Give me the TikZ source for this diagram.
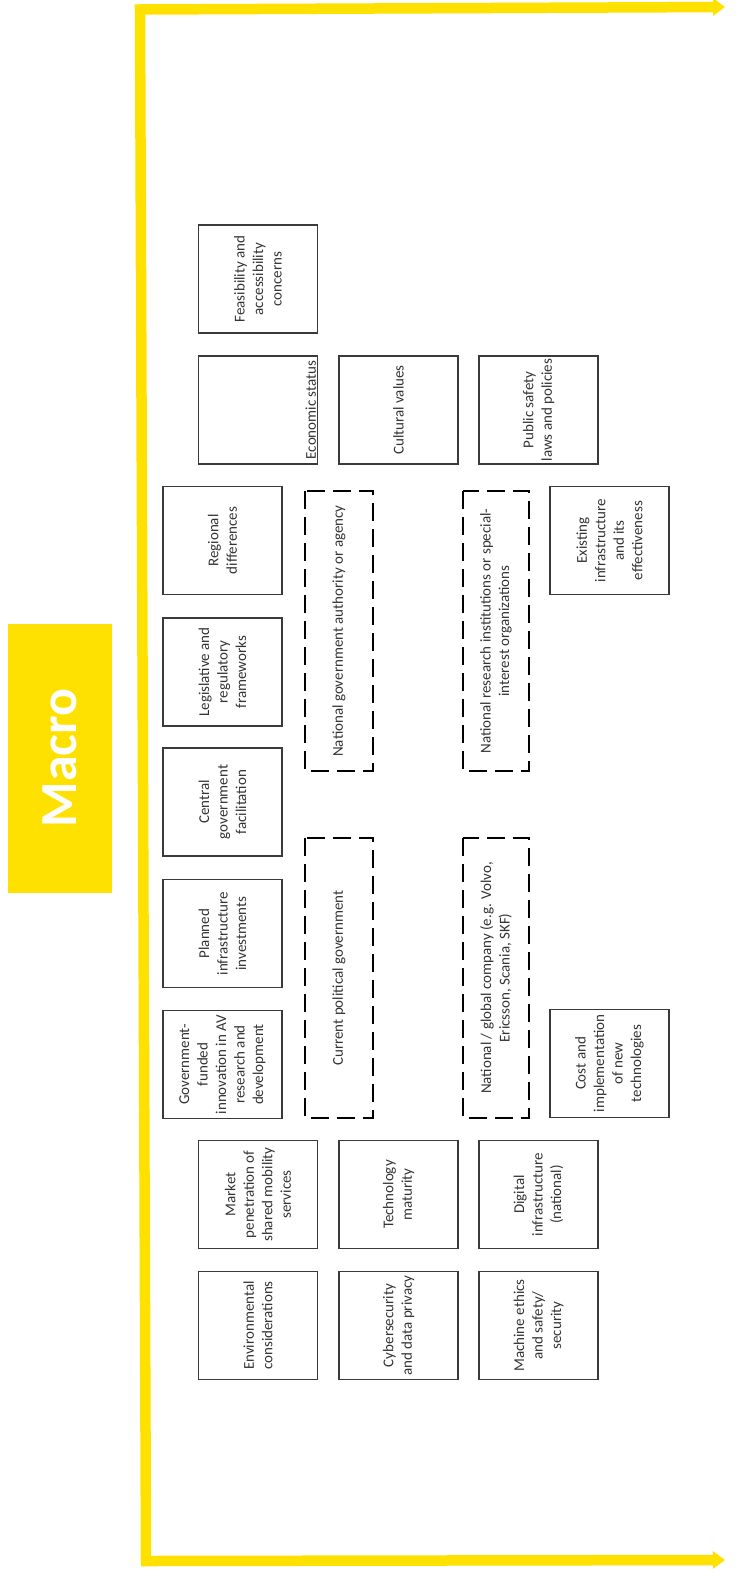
\documentclass[tikz,border=0pt]{standalone}
\usepackage{fontspec}
\setmainfont{Carlito}
\usetikzlibrary{arrows.meta}
\definecolor{macroyellow}{HTML}{FFE100}
\definecolor{boxline}{HTML}{3A3A3A}
\definecolor{boxtext}{HTML}{333333}
\begin{document}
\begin{tikzpicture}[x=1pt,y=-1pt,
  factor/.style={draw=boxline, line width=1.3pt, rotate=90,
    minimum width=108pt, minimum height=119pt, inner sep=1pt,
    align=center, text=boxtext, font=\fontsize{15}{18.5}\selectfont},
  actor/.style={draw=black, line width=1.9pt, dash pattern=on 18pt off 8pt,
    rotate=90, minimum width=280pt, inner sep=1pt,
    align=center, text=boxtext, font=\fontsize{15}{18.5}\selectfont},
  axis/.style={draw=macroyellow, line width=10.5pt, line join=miter,
    {Triangle[length=12pt,width=17pt]}-{Triangle[length=12pt,width=17pt]}},
]
\useasboundingbox (0,0) rectangle (739,1574);

% yellow frame with arrows on both horizontal legs
\coordinate (topend) at (725,7);
\coordinate (topcorner) at (140,9.5);
\coordinate (botcorner) at (146,1561);
\coordinate (botend) at (725,1560);
\draw[axis] (topend) -- (topcorner) -- (botcorner) -- (botend);

% title block
\node[fill=macroyellow, rotate=90, minimum width=269pt, minimum height=104pt,
  inner sep=0pt, text=white, font=\fontsize{52}{60}\selectfont\bfseries]
  (macro) at (60,758) {Macro};

% factor boxes, top of the sheet
\node[factor] (feas) at (258,279) {Feasibility and\\accessibility\\concerns};
\node[factor] (econ) at (258,410) {\rule{0pt}{116pt}Economic status};
\node[factor] (cult) at (398.5,410) {Cultural values};
\node[factor] (safety) at (538.5,410) {Public safety\\laws and policies};
\node[factor] (regional) at (222.5,540.5) {Regional\\differences};
\node[factor] (existing) at (609.5,540.5) {Existing\\infrastructure\\and its\\effectiveness};
\node[factor] (legis) at (222.5,672) {Legislative and\\regulatory\\frameworks};
\node[factor] (central) at (222.5,802) {Central\\government\\facilitation};
\node[factor] (planned) at (222.5,933.5) {Planned\\infrastructure\\investments};
\node[factor] (govfund) at (222.5,1064.5) {Government-\\funded\\innovation in AV\\research and\\development};
\node[factor] (cost) at (609.5,1063.5) {Cost and\\implementation\\of new\\technologies};

% factor boxes, bottom of the sheet
\node[factor] (market) at (258,1194.5) {Market\\penetration of\\shared mobility\\services};
\node[factor] (techmat) at (398.5,1194.5) {Technology\\maturity};
\node[factor] (digital) at (538.5,1194.5) {Digital\\infrastructure\\(national)};
\node[factor] (env) at (258,1325.5) {Environmental\\considerations};
\node[factor] (cyber) at (398.5,1325.5) {Cybersecurity\\and data privacy};
\node[factor] (ethics) at (538.5,1325.5) {Machine ethics\\and safety/\\security};

% actors (dashed)
\node[actor, minimum height=68pt] (natgov) at (339,631) {National government authority or agency};
\node[actor, minimum height=68pt] (curgov) at (339,978) {Current political government};
\node[actor, minimum height=66pt] (research) at (496,631) {National research institutions or special-\\interest organizations};
\node[actor, minimum height=66pt] (company) at (496,978) {National / global company (e.g. Volvo,\\Ericsson, Scania, SKF)};
\end{tikzpicture}
\end{document}
